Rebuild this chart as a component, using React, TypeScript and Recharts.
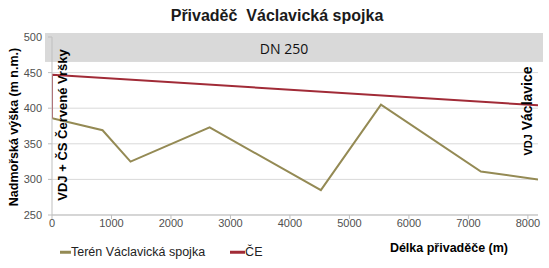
import React from "react";
import {
  LineChart,
  Line,
  XAxis,
  YAxis,
  CartesianGrid,
  ReferenceArea,
} from "recharts";

// terrain profile along the pipeline
const terrainX = [0, 850, 1320, 2650, 4520, 5530, 7210, 8170];
const terrainY = [386, 369, 325, 373, 285, 405, 311, 300];

// energy line (ČE)
const ceX = [0, 0, 8170];
const ceY = [386, 447, 404];

const xTicks = [0, 1000, 2000, 3000, 4000, 5000, 6000, 7000, 8000];
const yTicks = [250, 300, 350, 400, 450, 500];

const terrain = terrainX.map((x, i) => ({ x, y: terrainY[i] }));
const ce = ceX.map((x, i) => ({ x, y: ceY[i] }));

const FONT = "'Liberation Sans', Arial, sans-serif";

const BandShape = (props: any) => {
  const { x, y, width, height } = props;
  return (
    <g>
      <rect x={x - 7} y={y - 4} width={width + 12} height={height + 4} fill="#d9d9d9" />
      <text
        x={x + width / 2 - 11}
        y={y + height / 2 - 1}
        textAnchor="middle"
        dominantBaseline="central"
        fontFamily="'Open Sans', sans-serif"
        fontSize={14}
        fill="#111"
      >
        DN 250
      </text>
    </g>
  );
};

const rotated = (cx: number, cy: number): React.CSSProperties => ({
  position: "absolute",
  left: cx,
  top: cy,
  transform: "translate(-50%, -50%) rotate(-90deg)",
  whiteSpace: "nowrap",
  lineHeight: 1,
  fontFamily: FONT,
  fontWeight: "bold",
  color: "#000",
});

export default function App() {
  return (
    <div style={{ position: "absolute", left: 0, top: 0, width: 549, height: 268, background: "#fff" }}>
      <LineChart width={549} height={268} data={terrain} margin={{ top: 37, right: 11, bottom: 0, left: 0 }}>
        <CartesianGrid vertical={false} stroke="#d9d9d9" />
        <XAxis
          type="number"
          dataKey="x"
          domain={[0, 8170]}
          ticks={xTicks}
          allowDataOverflow
          height={53}
          tickSize={4}
          tickMargin={0}
          stroke="#bfbfbf"
          tick={{ fill: "#505050", fontSize: 11, fontFamily: FONT }}
        />
        <YAxis
          type="number"
          domain={[250, 500]}
          ticks={yTicks}
          width={52}
          tickSize={4}
          tickMargin={6}
          stroke="#bfbfbf"
          tick={{ fill: "#505050", fontSize: 11, fontFamily: FONT }}
        />
        <ReferenceArea x1={0} x2={8170} y1={465} y2={500} shape={BandShape} />
        <Line
          data={terrain}
          dataKey="y"
          type="linear"
          stroke="#948a54"
          strokeWidth={2}
          dot={false}
          isAnimationActive={false}
        />
        <Line
          data={ce}
          dataKey="y"
          type="linear"
          stroke="#a12b37"
          strokeWidth={2}
          dot={false}
          isAnimationActive={false}
        />
      </LineChart>

      <div
        style={{
          position: "absolute",
          left: 277,
          top: 16,
          transform: "translate(-50%, -50%)",
          whiteSpace: "pre",
          fontFamily: FONT,
          fontWeight: "bold",
          fontSize: 16,
          color: "#1a1a1a",
          lineHeight: 1,
        }}
      >
        Přivaděč  Václavická spojka
      </div>

      <div style={{ ...rotated(14, 127), fontSize: 12.5 }}>Nadmořská výška (m n.m.)</div>
      <div style={{ ...rotated(62, 125), fontSize: 13 }}>VDJ + ČS Červené Vršky</div>
      <div style={{ ...rotated(527, 111), fontSize: 14 }}>
        <span style={{ fontSize: 11 }}>VDJ</span> Václavice
      </div>

      <div
        style={{
          position: "absolute",
          left: 508,
          top: 248,
          transform: "translate(-100%, -50%)",
          whiteSpace: "nowrap",
          fontFamily: FONT,
          fontWeight: "bold",
          fontSize: 12.5,
          lineHeight: 1,
          color: "#000",
        }}
      >
        Délka přivaděče (m)
      </div>

      <div
        style={{
          position: "absolute",
          left: 60,
          top: 252,
          transform: "translateY(-50%)",
          display: "flex",
          alignItems: "center",
          fontFamily: FONT,
          fontSize: 12.5,
          lineHeight: 1,
          color: "#222",
          whiteSpace: "nowrap",
        }}
      >
        <span style={{ display: "inline-block", width: 11, height: 3, background: "#948a54" }} />
        <span>Terén Václavická spojka</span>
        <span style={{ display: "inline-block", width: 15, height: 3, background: "#a12b37", marginLeft: 25 }} />
        <span>ČE</span>
      </div>
    </div>
  );
}
